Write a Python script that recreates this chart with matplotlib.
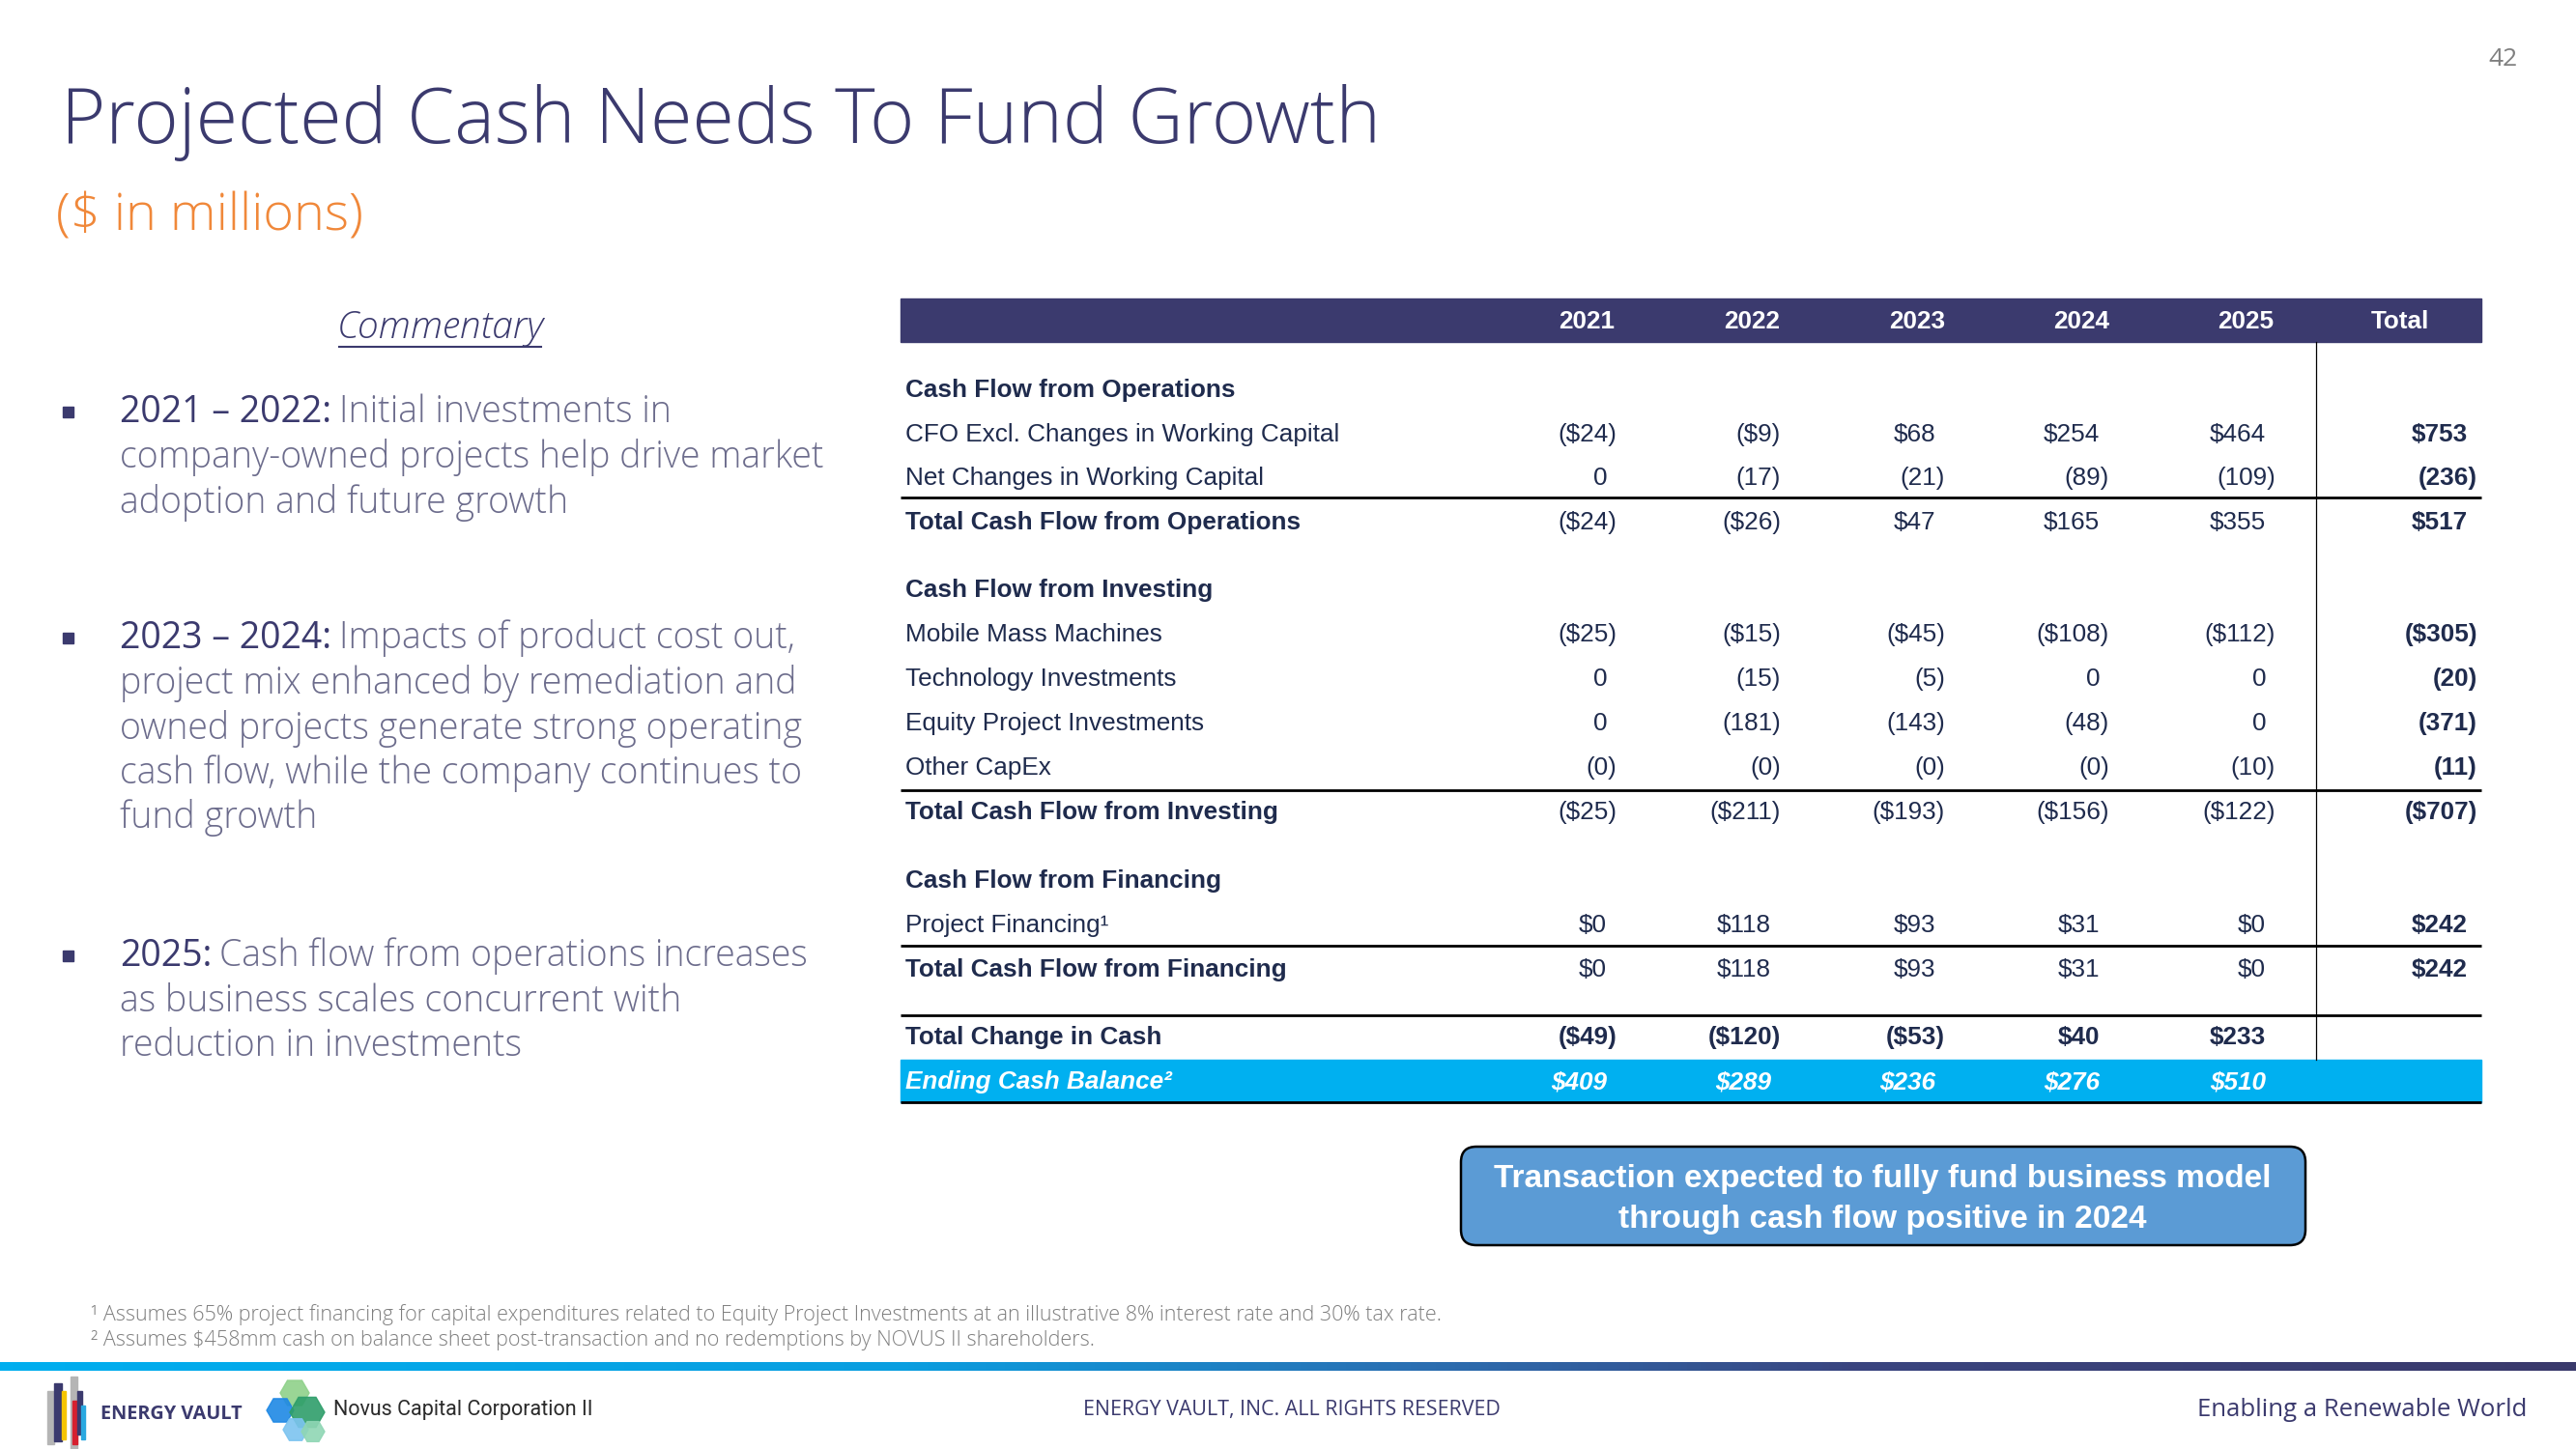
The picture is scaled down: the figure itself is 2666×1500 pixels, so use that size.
import math
import numpy as np
import matplotlib
matplotlib.use('Agg')
import matplotlib.pyplot as plt
from matplotlib.patches import Rectangle, FancyBboxPatch, RegularPolygon
from matplotlib.colors import LinearSegmentedColormap

###############################################################
# Data ($ in millions), -0.0 means a value shown as "(0)"
###############################################################
years = ['2021', '2022', '2023', '2024', '2025']

cfo_excl_wc = [-24, -9, 68, 254, 464]
net_wc = [0, -17, -21, -89, -109]
total_cfo = [-24, -26, 47, 165, 355]
mobile_mass = [-25, -15, -45, -108, -112]
technology = [0, -15, -5, 0, 0]
equity_project = [0, -181, -143, -48, 0]
other_capex = [-0.0, -0.0, -0.0, -0.0, -10]
total_cfi = [-25, -211, -193, -156, -122]
project_financing = [0, 118, 93, 31, 0]
total_cff = [0, 118, 93, 31, 0]
total_change = [-49, -120, -53, 40, 233]
ending_cash = [409, 289, 236, 276, 510]

totals = {'cfo_excl_wc': 753, 'net_wc': -236, 'total_cfo': 517,
          'mobile_mass': -305, 'technology': -20, 'equity_project': -371,
          'other_capex': -11, 'total_cfi': -707,
          'project_financing': 242, 'total_cff': 242}

# (label, values, total, with $, style)
rows = [
    ('Cash Flow from Operations', None, None, False, 'section'),
    ('CFO Excl. Changes in Working Capital', cfo_excl_wc, totals['cfo_excl_wc'], True, 'item'),
    ('Net Changes in Working Capital', net_wc, totals['net_wc'], False, 'item'),
    ('Total Cash Flow from Operations', total_cfo, totals['total_cfo'], True, 'total'),
    ('Cash Flow from Investing', None, None, False, 'section'),
    ('Mobile Mass Machines', mobile_mass, totals['mobile_mass'], True, 'item'),
    ('Technology Investments', technology, totals['technology'], False, 'item'),
    ('Equity Project Investments', equity_project, totals['equity_project'], False, 'item'),
    ('Other CapEx', other_capex, totals['other_capex'], False, 'item'),
    ('Total Cash Flow from Investing', total_cfi, totals['total_cfi'], True, 'total'),
    ('Cash Flow from Financing', None, None, False, 'section'),
    ('Project Financing\u00b9', project_financing, totals['project_financing'], True, 'item'),
    ('Total Cash Flow from Financing', total_cff, totals['total_cff'], True, 'total'),
    ('Total Change in Cash', total_change, None, True, 'change'),
    ('Ending Cash Balance\u00b2', ending_cash, None, True, 'ending'),
]

commentary = [
    ('2021 \u2013 2022:', ['Initial investments in',
                           'company-owned projects help drive market',
                           'adoption and future growth']),
    ('2023 \u2013 2024:', ['Impacts of product cost out,',
                           'project mix enhanced by remediation and',
                           'owned projects generate strong operating',
                           'cash flow, while the company continues to',
                           'fund growth']),
    ('2025:', ['Cash flow from operations increases',
               'as business scales concurrent with',
               'reduction in investments']),
]

callout = ['Transaction expected to fully fund business model',
           'through cash flow positive in 2024']

footnotes = ['\u00b9 Assumes 65% project financing for capital expenditures related to Equity Project '
             'Investments at an illustrative 8% interest rate and 30% tax rate.',
             '\u00b2 Assumes $458mm cash on balance sheet post-transaction and no redemptions by '
             'NOVUS II shareholders.']

###############################################################
# Style / layout
###############################################################
NAVY = '#3b3a6e'
GREY_TXT = '#6c6c8c'
TBL_TXT = '#1f2b4d'
CYAN = '#00b0f0'
SLIDE_FONT = ['Open Sans', 'DejaVu Sans']
TBL_FONT = ['Liberation Sans', 'DejaVu Sans']

fig = plt.figure(figsize=(26.66, 15), dpi=100)
ax = fig.add_axes([0, 0, 1, 1])
renderer = fig.canvas.get_renderer()


def text_span(t):
    bb = t.get_window_extent(renderer=renderer)
    inv = ax.transData.inverted()
    return inv.transform((bb.x0, bb.y0))[0], inv.transform((bb.x1, bb.y0))[0]


def fmt(v, dollar):
    if v is None:
        return ''
    s = ('$' if dollar else '') + '{:d}'.format(int(round(abs(v))))
    if math.copysign(1, v) < 0:
        return '(' + s + ')'
    return s


ax.set_xlim(0, 2666)
ax.set_ylim(1500, 0)
ax.axis('off')

# title
ax.text(63, 127, 'Projected Cash Needs To Fund Growth', fontsize=57, color=NAVY,
        family=SLIDE_FONT, weight='light', va='center', ha='left')
ax.text(58, 225, '($ in millions)', fontsize=39, color='#f0883a',
        family=SLIDE_FONT, weight='light', va='center', ha='left')
ax.text(2590, 61, '42', fontsize=19, color='#7f7f7f', family=SLIDE_FONT,
        va='center', ha='center')

# commentary
t = ax.text(456, 340, 'Commentary', fontsize=28, color=NAVY, family=SLIDE_FONT,
            style='italic', weight='light', va='center', ha='center')
ux0, ux1 = text_span(t)
ax.plot([ux0 + 2, ux1 - 3], [359, 359], color=NAVY, lw=1.5)

bullet_y = [427, 661, 990]
line_gap = 46.5
for (head, lines), y0 in zip(commentary, bullet_y):
    ax.add_patch(Rectangle((65, y0 - 6), 11, 11, color=NAVY))
    t = ax.text(124, y0, head, fontsize=27, color=NAVY, family=SLIDE_FONT,
                va='center', ha='left')
    x1 = text_span(t)[1]
    for i, ln in enumerate(lines):
        x = x1 + 8 if i == 0 else 124
        ax.text(x, y0 + i * line_gap, ln, fontsize=27, color=GREY_TXT,
                family=SLIDE_FONT, weight='light', va='center', ha='left')

###############################################################
# Table
###############################################################
tbl_x0, tbl_x1 = 932, 2568
col_right = [1673, 1843, 2013, 2183, 2355]
total_right = 2564
header_x = [1642, 1813, 1984, 2154, 2324]
pos_pad = 10
row_y = [404, 450, 495, 541, 611, 657, 703, 749, 795, 841, 912, 958, 1004, 1074, 1120]
rule_y = [515, 818, 979, 1051, 1141]
fs = 18.8

ax.add_patch(Rectangle((tbl_x0, 309), tbl_x1 - tbl_x0, 45, color=NAVY))
for x, yr in zip(header_x, years):
    ax.text(x, 333, yr, fontsize=fs, color='white', weight='bold',
            family=TBL_FONT, va='center', ha='center')
ax.text(2484, 333, 'Total', fontsize=fs, color='white', weight='bold',
        family=TBL_FONT, va='center', ha='center')

# ending balance band
ax.add_patch(Rectangle((tbl_x0, 1097), tbl_x1 - tbl_x0, 44, color=CYAN))

for (label, vals, tot, dollar, style), y in zip(rows, row_y):
    lab_w = 'normal' if style == 'item' else 'bold'
    color = 'white' if style == 'ending' else TBL_TXT
    italic = 'italic' if style == 'ending' else 'normal'
    ax.text(937, y, label, fontsize=fs, color=color, weight=lab_w, style=italic,
            family=TBL_FONT, va='center', ha='left')
    if vals is None:
        continue
    val_w = 'bold' if style in ('change', 'ending') else 'normal'
    for v, xr in zip(vals, col_right):
        s = fmt(v, dollar)
        x = xr if s.startswith('(') else xr - pos_pad
        ax.text(x, y, s, fontsize=fs, color=color, weight=val_w, style=italic,
                family=TBL_FONT, va='center', ha='right')
    if tot is not None:
        s = fmt(tot, dollar)
        x = total_right if s.startswith('(') else total_right - pos_pad
        ax.text(x, y, s, fontsize=fs, color=TBL_TXT, weight='bold',
                family=TBL_FONT, va='center', ha='right')

for y in rule_y:
    ax.plot([tbl_x0, tbl_x1], [y, y], color='black', lw=2, solid_capstyle='butt')
ax.plot([2397, 2397], [354, 1097], color='black', lw=0.9)

# callout
ax.add_patch(FancyBboxPatch((1512, 1187), 874, 102,
                            boxstyle='round,pad=0,rounding_size=16',
                            fc='#5b9bd5', ec='black', lw=1.8))
for i, ln in enumerate(callout):
    ax.text(1948, 1221 + i * 41, ln, fontsize=24, color='white', weight='bold',
            family=TBL_FONT, va='center', ha='center')

###############################################################
# Footnotes and footer
###############################################################
for i, fn in enumerate(footnotes):
    ax.text(94, 1361 + i * 26, fn, fontsize=15.5, color='#7f7f7f',
            family=SLIDE_FONT, weight='light', va='center', ha='left')

grad = LinearSegmentedColormap.from_list(
    'footer', [(0, '#00aeef'), (0.35, '#0a9ee0'), (0.55, '#2b6fb2'),
               (0.72, '#3a4580'), (1, '#3a3a6c')])
ax.imshow(np.linspace(0, 1, 400).reshape(1, -1), cmap=grad, aspect='auto',
          extent=[0, 2666, 1419, 1410], zorder=2)
ax.set_xlim(0, 2666)
ax.set_ylim(1500, 0)

ax.text(1337, 1459, 'ENERGY VAULT, INC. ALL RIGHTS RESERVED', fontsize=15.4,
        color=NAVY, family=SLIDE_FONT, va='center', ha='center')
ax.text(2615, 1459, 'Enabling a Renewable World', fontsize=18.5, color=NAVY,
        family=SLIDE_FONT, va='center', ha='right')

# Energy Vault logo (rough bars)
logo_bars = [(49, 1440, 7, 55, '#b5b5b5'), (56, 1432, 8, 60, NAVY),
             (64, 1440, 4, 50, '#f5c400'), (73, 1425, 7, 75, '#b5b5b5'),
             (75, 1450, 5, 45, '#d6202f'), (80, 1440, 5, 45, NAVY),
             (84, 1455, 4, 35, '#29a8e0')]
for x, y, w, h, c in logo_bars:
    ax.add_patch(Rectangle((x, y), w, h, color=c, zorder=3))
ax.text(104, 1464, 'ENERGY VAULT', fontsize=14.3, color=NAVY, weight='bold',
        family=SLIDE_FONT, va='center', ha='left')

# Novus logo (rough hexagons)
hexes = [(305, 1442, 15, '#8fd18a'), (290, 1460, 14, '#1e88e5'),
         (318, 1462, 18, '#2e9e6a'), (306, 1480, 13, '#7cc4f0'),
         (324, 1482, 12, '#8fd6b4')]
for x, y, r, c in hexes:
    ax.add_patch(RegularPolygon((x, y), 6, radius=r, orientation=np.pi / 6,
                                color=c, alpha=0.9, zorder=3))
ax.text(345, 1460, 'Novus Capital Corporation II', fontsize=15.5, color='#2b2b2b',
        family=['Roboto', 'DejaVu Sans'], va='center', ha='left')

plt.savefig('out.png', dpi=100)
plt.close()
